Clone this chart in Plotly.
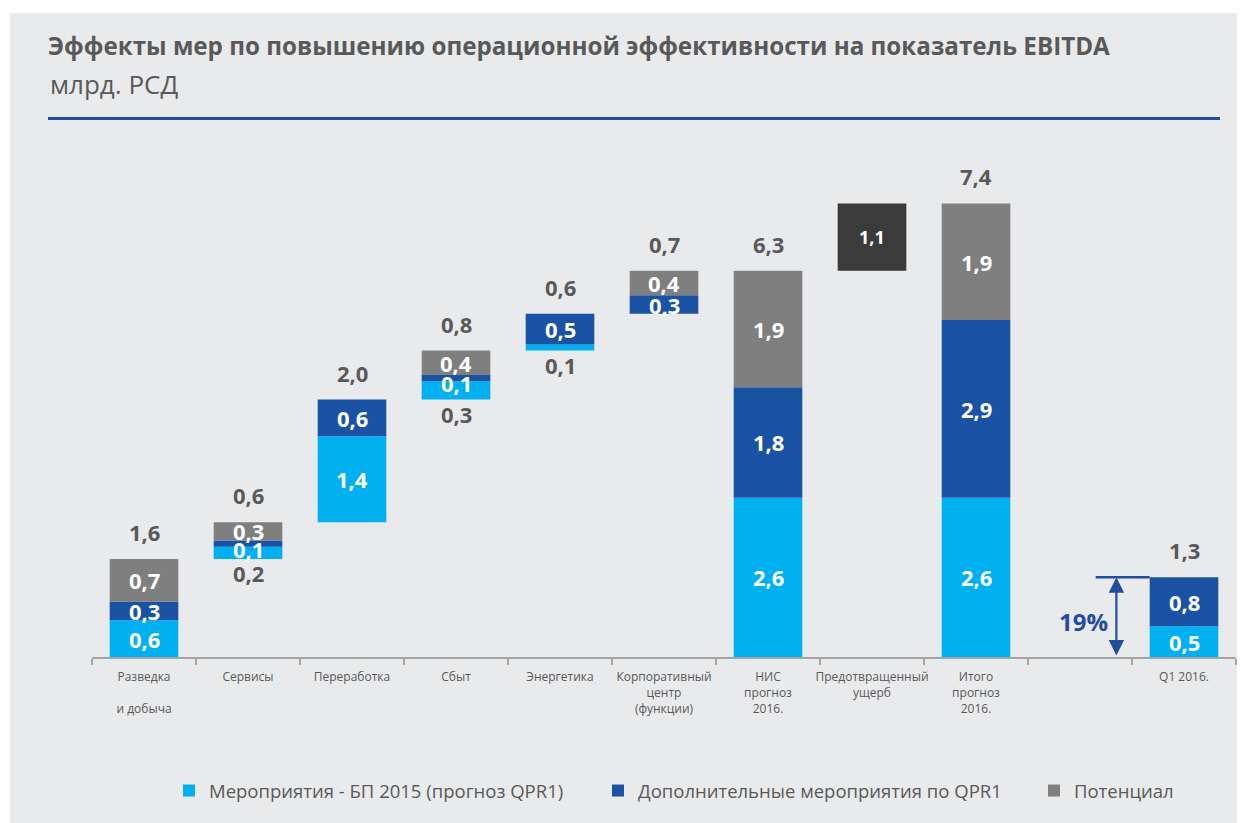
import plotly.graph_objects as go

# ---------------- data ----------------
categories = ["Разведка<br><br>и добыча", "Сервисы", "Переработка", "Сбыт", "Энергетика",
              "Корпоративный<br>центр<br>(функции)", "НИС<br>прогноз<br>2016.",
              "Предотвращенный<br>ущерб", "Итого<br>прогноз<br>2016.", " ", "Q1 2016."]
bp2015    = [0.6, 0.2, 1.4, 0.3, 0.1, 0.0, 2.6, 0.0, 2.6, 0.0, 0.5]
extra     = [0.3, 0.1, 0.6, 0.1, 0.5, 0.3, 1.8, 0.0, 2.9, 0.0, 0.8]
potential = [0.7, 0.3, 0.0, 0.4, 0.0, 0.4, 1.9, 0.0, 1.9, 0.0, 0.0]
prevented = [0.0, 0.0, 0.0, 0.0, 0.0, 0.0, 0.0, 1.1, 0.0, 0.0, 0.0]
step_flags = [True, True, True, True, True, True, False, False, False, False, False]  # waterfall steps
q1_share_label = "19%"
series_names = ["Мероприятия - БП 2015 (прогноз QPR1)",
                "Дополнительные мероприятия по QPR1",
                "Потенциал"]

# ---------------- styling ----------------
C_LIGHT = "#00b0f0"
C_DARK = "#1a52a4"
C_GRAY = "#7f7f7f"
C_BLACK = "#3b3b3b"
C_TEXT = "#595959"
C_LINE = "#1f4e9f"
FONT = "Open Sans"

# page body has an 8px margin; geometry below is in screen pixels
OFF = 8
FIG_W, FIG_H = 1245 - OFF, 823 - OFF
PL, PR, PT, PB = 92, 1236, 136, 657          # plot area in screen px


def px(x):
    return (x - PL) / (PR - PL)


def py(y):
    return (PB - y) / (PB - PT)


n = len(categories)
seg_tot = [bp2015[i] + extra[i] + potential[i] for i in range(n)]
base = []
run = 0.0
for i in range(n):
    if step_flags[i]:
        base.append(run)
        run += seg_tot[i]
    else:
        base.append(0.0)
# prevented damage floats on top of the НИС total (the bar before it)
for i in range(n):
    if prevented[i] > 0:
        base[i] = seg_tot[i - 1]

b1 = base
b2 = [base[i] + bp2015[i] for i in range(n)]
b3 = [b2[i] + extra[i] for i in range(n)]
tops = [b3[i] + potential[i] + prevented[i] for i in range(n)]

W = 0.66
fig = go.Figure()
fig.add_trace(go.Bar(x=categories, y=bp2015, base=b1, name=series_names[0], legend="legend",
                     marker=dict(color=C_LIGHT, line=dict(width=0)), width=W))
fig.add_trace(go.Bar(x=categories, y=extra, base=b2, name=series_names[1], legend="legend2",
                     marker=dict(color=C_DARK, line=dict(width=0)), width=W))
fig.add_trace(go.Bar(x=categories, y=potential, base=b3, name=series_names[2], legend="legend3",
                     marker=dict(color=C_GRAY, line=dict(width=0)), width=W))
fig.add_trace(go.Bar(x=categories, y=prevented, base=base, name="Предотвращенный ущерб",
                     marker=dict(color=C_BLACK, line=dict(width=0)), width=W, showlegend=False))


def fmt(v):
    return f"{v:.1f}".replace(".", ",")


ann = []
LS = 22
LBL = dict(family=FONT, size=LS, color="white")
LBLG = dict(family=FONT, size=LS, color=C_TEXT)
for i in range(n):
    if bp2015[i] > 0:
        if base[i] > 0 and bp2015[i] < 0.5:
            ann.append(dict(x=i, y=b1[i], text=f"<b>{fmt(bp2015[i])}</b>", showarrow=False,
                            font=LBLG, yanchor="middle", yshift=-14))
        else:
            ann.append(dict(x=i, y=b1[i] + bp2015[i] / 2, text=f"<b>{fmt(bp2015[i])}</b>",
                            showarrow=False, font=LBL, yanchor="middle"))
    if extra[i] > 0:
        ann.append(dict(x=i, y=b2[i] + extra[i] / 2, text=f"<b>{fmt(extra[i])}</b>",
                        showarrow=False, font=LBL, yanchor="middle",
                        yshift=-5 if extra[i] < 0.2 else 0))
    if potential[i] > 0:
        ann.append(dict(x=i, y=b3[i] + potential[i] / 2, text=f"<b>{fmt(potential[i])}</b>",
                        showarrow=False, font=LBL, yanchor="middle"))
    if prevented[i] > 0:
        ann.append(dict(x=i, y=base[i] + prevented[i] / 2, text=f"<b>{fmt(prevented[i])}</b>",
                        showarrow=False, font=dict(family=FONT, size=18, color="white"),
                        yanchor="middle"))
    elif seg_tot[i] > 0:
        ann.append(dict(x=i, y=tops[i], text=f"<b>{fmt(seg_tot[i])}</b>", showarrow=False,
                        font=LBLG, yanchor="middle", yshift=27))

# 19% marker (between the empty slot and the Q1 bar)
q1 = n - 1
q1_total = bp2015[q1] + extra[q1]
ann.append(dict(x=q1 - 0.65, y=q1_total, ax=q1 - 0.65, ay=0, xref="x", yref="y",
                axref="x", ayref="y", showarrow=True, arrowhead=2, arrowside="end+start",
                arrowsize=1.4, arrowwidth=2.2, arrowcolor=C_LINE, text=""))
ann.append(dict(x=q1 - 0.97, y=q1_total * 0.45, text=f"<b>{q1_share_label}</b>", showarrow=False,
                font=dict(family=FONT, size=24, color=C_LINE), yanchor="middle"))

# subtitle
ann.append(dict(xref="paper", yref="paper", x=px(48), y=py(84),
                xanchor="left", yanchor="middle", showarrow=False, text="млрд. РСД",
                font=dict(family=FONT, size=26, color=C_TEXT)))

shapes = [
    dict(type="rect", xref="paper", yref="paper", x0=px(10), x1=px(1250),
         y0=py(830), y1=py(13), fillcolor="#e9eaec", line=dict(width=0), layer="below"),
    dict(type="line", xref="paper", yref="paper", x0=px(48), x1=px(1220),
         y0=py(118.5), y1=py(118.5), line=dict(color=C_LINE, width=3)),
    dict(type="line", xref="x", yref="y", x0=q1 - 0.85, x1=q1 - W / 2, y0=q1_total, y1=q1_total,
         line=dict(color=C_LINE, width=2.5)),
]

LEG = dict(orientation="h", xanchor="left", y=py(791), yanchor="middle",
           font=dict(family=FONT, size=18.5, color=C_TEXT), bgcolor="rgba(0,0,0,0)")

fig.update_layout(
    width=FIG_W, height=FIG_H,
    margin=dict(l=PL - OFF, r=FIG_W - (PR - OFF), t=PT - OFF, b=FIG_H - (PB - OFF), pad=0),
    paper_bgcolor="white", plot_bgcolor="rgba(0,0,0,0)",
    barmode="overlay",
    font=dict(family=FONT, color=C_TEXT),
    title=dict(text="<b>Эффекты мер по повышению операционной эффективности на показатель EBITDA</b>",
               xref="container", yref="container", x=(48 - OFF) / FIG_W, xanchor="left",
               y=1 - (47 - OFF) / FIG_H, yanchor="middle",
               font=dict(family=FONT, size=24.2, color=C_TEXT)),
    xaxis=dict(type="category", showgrid=False, showline=True, linecolor="#a6a6a6", linewidth=2,
               ticks="outside", tickson="boundaries", ticklen=6, tickcolor="#a6a6a6", tickwidth=2,
               tickangle=0, tickfont=dict(family=FONT, size=12, color=C_TEXT),
               ticklabelstandoff=8, range=[-0.5, n - 0.5], zeroline=False),
    yaxis=dict(range=[0, 8.5], visible=False, showgrid=False, zeroline=False),
    legend=dict(LEG, x=px(169)),
    legend2=dict(LEG, x=px(598)),
    legend3=dict(LEG, x=px(1034)),
    annotations=ann,
    shapes=shapes,
)

fig.write_html("out.html")
